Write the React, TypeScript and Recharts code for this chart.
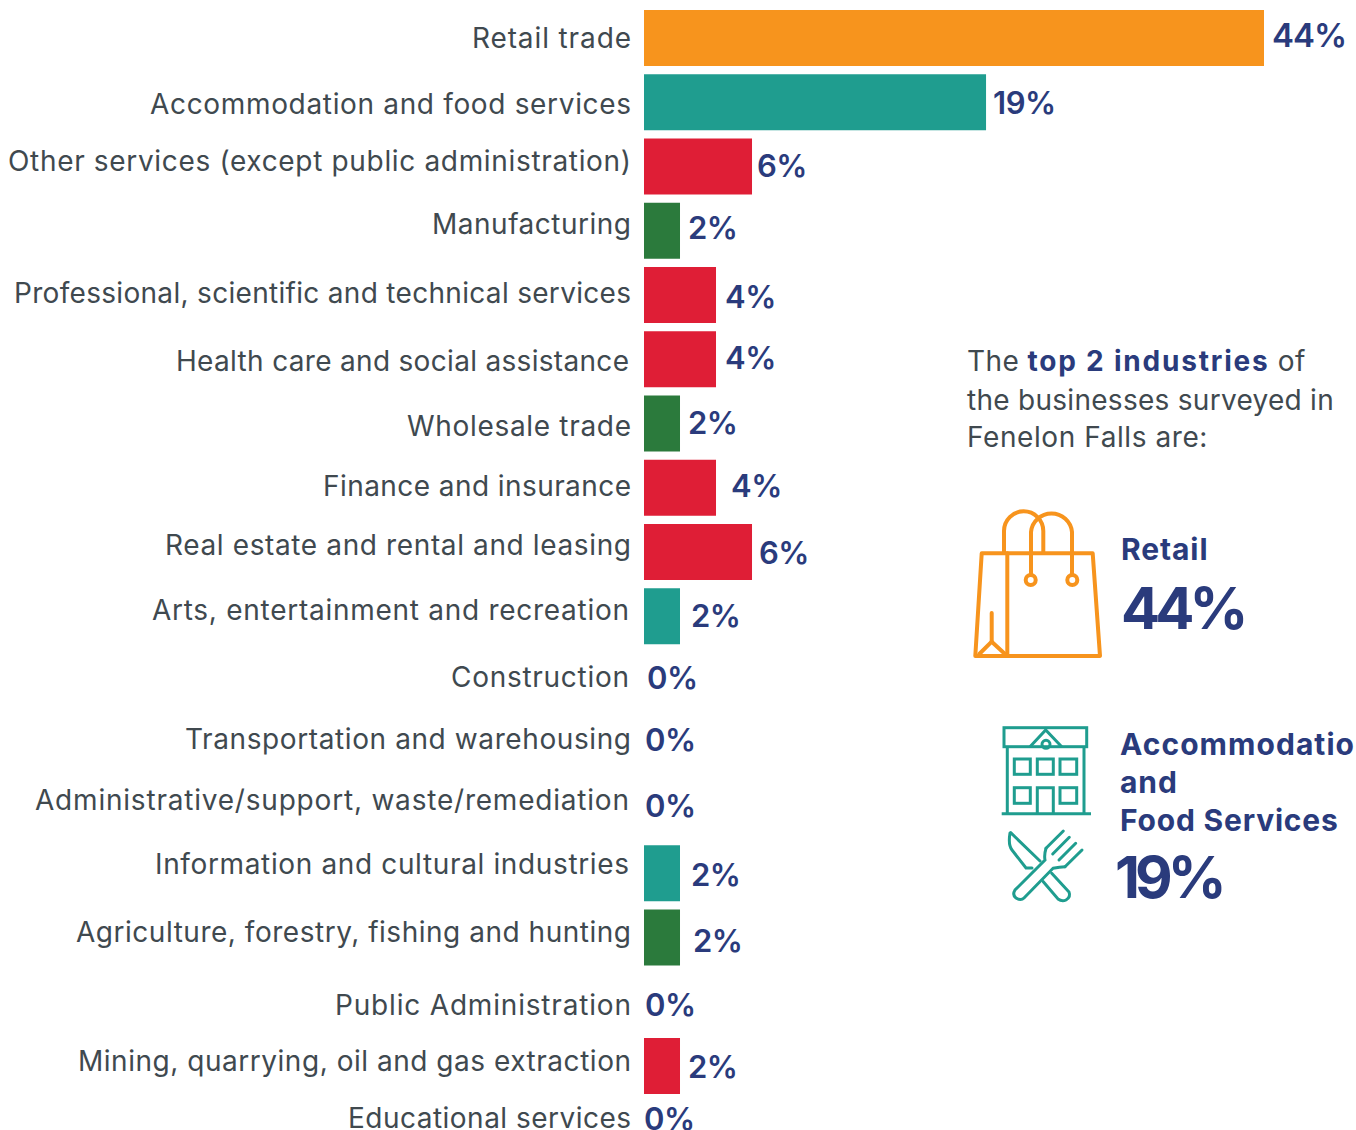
import { Bar, Cell, ComposedChart, Line, XAxis, YAxis } from "recharts";

const categories = [
  "Retail trade",
  "Accommodation and food services",
  "Other services (except public administration)",
  "Manufacturing",
  "Professional, scientific and technical services",
  "Health care and social assistance",
  "Wholesale trade",
  "Finance and insurance",
  "Real estate and rental and leasing",
  "Arts, entertainment and recreation",
  "Construction",
  "Transportation and warehousing",
  "Administrative/support, waste/remediation",
  "Information and cultural industries",
  "Agriculture, forestry, fishing and hunting",
  "Public Administration",
  "Mining, quarrying, oil and gas extraction",
  "Educational services",
];

const shares = [44, 19, 6, 2, 4, 4, 2, 4, 6, 2, 0, 0, 0, 2, 2, 0, 2, 0];

const ORANGE = "#f7941d";
const TEAL = "#1f9d8f";
const RED = "#df1e36";
const GREEN = "#2b7a3c";
const NAVY = "#2a3b7c";
const GREY = "#40494f";
const FONT = "Inter, sans-serif";

const barColors = [
  ORANGE, TEAL, RED, GREEN, RED, RED, GREEN, RED, RED,
  TEAL, RED, RED, RED, TEAL, GREEN, RED, RED, RED,
];

// the hand-placed labels of the original do not sit on a clean grid
const tickNudgeX = [0, 0, 0, 0, 0, -2, 0, 0, 0, -2, -2, 0, -2, -2, 0, 0, 0, 0];
const tickNudgeY = [0, 2, -6, -7, -2, 2, 2, -2, -7, -6, -4, -6, -9, -9, -6, 3, -5, -12];
// Gotham-like widths of the original, the installed font runs narrower
const tickWidths = [159, 481, 623, 199, 617, 453, 224, 308, 466, 477, 178, 446, 594, 474, 555, 296, 553, 283];
const shareNudgeX = [8, 7, 5, 8, 9, 9, 8, 15, 7, 11, 3, 1, 1, 11, 13, 1, 8, 0];
const shareNudgeY = [-3, 0, -1, -3, 1, -2, -1, -2, 0, -1, -3, -5, -4, 1, 3, 3, 0, -12];

const data = categories.map((name, i) => ({ name, share: shares[i] }));

const PLOT_RIGHT = 1264;

function CategoryTick({ x, y, payload }: any) {
  const i = payload.index;
  return (
    <text
      x={x + tickNudgeX[i]}
      y={y + tickNudgeY[i]}
      textAnchor="end"
      dominantBaseline="central"
      fontFamily={FONT}
      fontSize={28}
      textLength={tickWidths[i]}
      lengthAdjust="spacing"
      fill={GREY}
    >
      {payload.value}
    </text>
  );
}

function ShareLabel({ x, y, index, value }: any) {
  // the orange bar is cut off at the edge of the plot in the original
  const end = Math.min(x, PLOT_RIGHT);
  return (
    <text
      x={end + shareNudgeX[index]}
      y={y + shareNudgeY[index]}
      dominantBaseline="central"
      fontFamily={FONT}
      fontSize={value === 44 ? 33 : 31}
      letterSpacing={value === 44 ? -1 : -0.5}
      fontWeight={600}
      fill={NAVY}
    >
      {value}%
    </text>
  );
}

function SidePanel() {
  return (
    <svg
      width={1356}
      height={1130}
      style={{ position: "absolute", left: 0, top: 0, pointerEvents: "none" }}
      fontFamily={FONT}
    >
      <g fontSize={28} fill={GREY}>
        <text x={967} y={371} letterSpacing={0.4}>
          The <tspan fontWeight={700} fill={NAVY} letterSpacing={1.8}>top 2 industries</tspan> of
        </text>
        <text x={967} y={410} letterSpacing={0.28}>the businesses surveyed in</text>
        <text x={967} y={447} letterSpacing={0.58}>Fenelon Falls are:</text>
      </g>

      <g fill={NAVY} fontWeight={700} letterSpacing={0.9}>
        <text x={1121} y={560} fontSize={30}>Retail</text>
        <text x={1121} y={629} fontSize={58} letterSpacing={-5}>44%</text>
        <text x={1120} y={755} fontSize={30} letterSpacing={1.05}>Accommodatio</text>
        <text x={1120} y={793} fontSize={30}>and</text>
        <text x={1120} y={831} fontSize={30} letterSpacing={0.8}>Food Services</text>
        <text x={1115} y={898} fontSize={58} letterSpacing={-5}>19%</text>
      </g>

      <g fill="none" stroke={ORANGE} strokeWidth={4} strokeLinejoin="round" strokeLinecap="round">
        <path d="M981.7 553.3 L1092.7 553.3 L1100 656 L975.3 656 Z" />
        <path d="M1007.3 553.3 L1007.3 656" />
        <path d="M1004 553 L1004 531 A19.6 19.6 0 0 1 1043.3 531 L1043.3 553" />
        <path d="M1031 575 L1031 532 A20.6 20.6 0 0 1 1072 532 L1072 575" />
        <circle cx={1030.7} cy={580} r={5} />
        <circle cx={1072.3} cy={580} r={5} />
        <path d="M991.7 613 L991.7 641.7" />
        <path d="M979.3 654 L991.7 641.7 L1005 654" />
      </g>

      <g fill="none" stroke={TEAL} strokeWidth={3}>
        <rect x={1004} y={727.7} width={82.7} height={19} />
        <path d="M1030 746.7 L1045.7 730 L1061.7 746.7" />
        <circle cx={1046} cy={744.3} r={4} />
        <path d="M1007.3 746.7 L1007.3 814 M1084 746.7 L1084 814 M1001.7 813.7 L1091 813.7" />
        <rect x={1014.3} y={759} width={16} height={15.3} />
        <rect x={1037.3} y={759} width={16} height={15.3} />
        <rect x={1060} y={759} width={16.7} height={15.3} />
        <rect x={1014.3} y={787.7} width={16} height={15.6} />
        <path d="M1037.3 813.7 L1037.3 787.7 L1053.3 787.7 L1053.3 813.7" />
        <rect x={1060} y={787.7} width={16.7} height={15.6} />
        <path d="M1010.7 832.7 L1040 861 M1010 833 Q1008 845 1012 850 L1026 868 L1032 868" strokeLinecap="round" />
        <path d="M1051.7 873.3 L1069 892 Q1071 897 1066 900 Q1062 902 1058 899 L1043.3 881.7" strokeLinecap="round" />
        <path
          d="M1063.3 831 L1046 848.3 M1069.3 837.3 L1052.7 854 M1075.7 843.3 L1059 860 M1082 850 L1065 866.7"
          strokeLinecap="round"
        />
        <path
          d="M1046 848.3 Q1044 855 1045 860 L1015 890 Q1012 895 1016 898 Q1021 901 1024 898 L1053 868.3 Q1060 867 1065 866.7"
          strokeLinecap="round"
        />
      </g>
    </svg>
  );
}

export default function App() {
  return (
    <div
      style={{
        position: "absolute",
        left: 0,
        top: 0,
        width: 1356,
        height: 1130,
        overflow: "hidden",
        background: "#fff",
      }}
    >
      <ComposedChart
        width={1356}
        height={1170}
        layout="vertical"
        data={data}
        margin={{ top: 6, right: 92, bottom: 7.5, left: 0 }}
      >
        {/* 44% runs past the domain on purpose: its bar is truncated in the original */}
        <XAxis type="number" hide domain={[0, 34.44]} allowDataOverflow />
        <YAxis
          type="category"
          dataKey="name"
          width={644}
          interval={0}
          axisLine={false}
          tickLine={false}
          tickSize={0}
          tickMargin={13}
          tick={<CategoryTick />}
        />
        <Bar dataKey="share" barSize={56} isAnimationActive={false}>
          {barColors.map((color, i) => (
            <Cell key={i} fill={color} />
          ))}
        </Bar>
        {/* invisible series only to carry the labels: Bar drops them at zero */}
        <Line
          dataKey="share"
          stroke="none"
          dot={false}
          activeDot={false}
          label={<ShareLabel />}
          isAnimationActive={false}
        />
      </ComposedChart>
      <SidePanel />
    </div>
  );
}
